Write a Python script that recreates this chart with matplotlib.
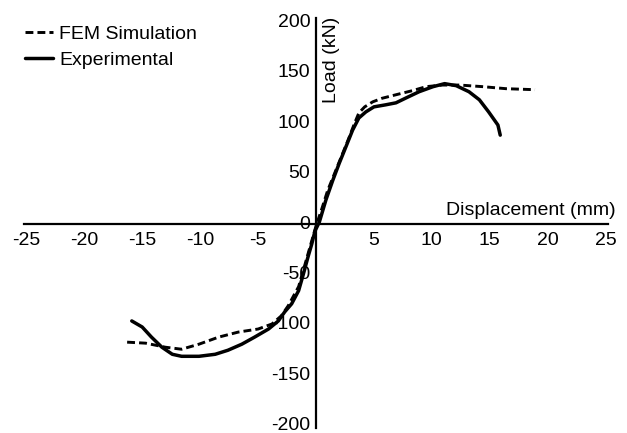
import matplotlib
matplotlib.use("Agg")
import matplotlib.pyplot as plt
from matplotlib.transforms import ScaledTranslation

plt.rcParams['font.family'] = ['Liberation Sans', 'DejaVu Sans']
plt.rcParams['axes.unicode_minus'] = False

# Data
exp_x = [-15.9, -15.0, -14.2, -13.3, -12.4, -11.6, -10.1, -8.7, -7.6, -6.4, -5.3, -4.1,
         -3.25, -2.7, -2.1, -1.5, -1.1, -0.7, -0.37, -0.09, 0.29, 0.86, 1.44, 2.0,
         2.6, 3.16, 3.7, 4.3, 5.0, 6.0, 6.9, 7.8, 8.9, 10.1, 11.1, 12.1, 13.2, 14.1,
         14.9, 15.7, 15.9]
exp_y = [-96, -102, -112, -122, -129, -131, -131, -129, -125, -119, -112, -104,
         -96, -87, -79, -66, -50, -33, -20, -7, 2, 24, 43, 60,
         77, 93, 105, 111, 116, 118, 120, 125, 131, 136, 139, 137, 131, 123,
         111, 98, 88]

fem_x = [-16.3, -14.7, -13.0, -11.6, -10.1, -8.4, -6.7, -5.0, -3.8, -3.0, -2.4,
         -1.5, -1.0, -0.5, 0.0, 0.5, 1.0, 1.6, 2.2, 2.8, 3.3, 3.7, 4.2, 4.9, 5.7,
         6.9, 8.3, 9.5, 10.9, 12.4, 14.4, 16.4, 18.9]
fem_y = [-117, -118, -122, -124, -119, -112, -107, -104, -99, -91, -81,
         -62, -42, -22, -2, 15, 33, 50, 67, 84, 99, 110, 116, 121, 124.5,
         128, 132, 136, 137.6, 137.6, 136, 134, 133]

x_ticks = [-25, -20, -15, -10, -5, 5, 10, 15, 20, 25]
y_ticks = [-200, -150, -100, -50, 0, 50, 100, 150, 200]

W, H = 627, 433
fig = plt.figure(figsize=(W / 100, H / 100), dpi=100)
ax = fig.add_axes([24 / W, 5 / H, 584 / W, 410 / H])
ax.set_xlim(-25.2, 25.2)
ax.set_ylim(-202, 204)

ax.plot(fem_x, fem_y, color='black', lw=2.1, ls=(0, (2.7, 1.4)),
        solid_capstyle='butt', dash_capstyle='butt', label='FEM Simulation')
ax.plot(exp_x, exp_y, color='black', lw=2.5, ls='-',
        solid_joinstyle='round', solid_capstyle='round', label='Experimental')

for s in ['top', 'right']:
    ax.spines[s].set_visible(False)
ax.spines['left'].set_position(('data', 0))
ax.spines['bottom'].set_position(('data', 0))
ax.spines['left'].set_linewidth(1.6)
ax.spines['bottom'].set_linewidth(1.6)

ax.set_xticks(x_ticks)
ax.set_yticks(y_ticks)
ax.tick_params(axis='both', length=0, labelsize=14)
ax.tick_params(axis='x', pad=6)
ax.tick_params(axis='y', pad=4)

shift = ScaledTranslation(0, 2 / 100, fig.dpi_scale_trans)
for lbl in ax.get_yticklabels():
    lbl.set_transform(lbl.get_transform() + shift)

fig.text(616 / W, 1 - 210 / H, 'Displacement (mm)', ha='right', va='center', fontsize=14)
fig.text(331 / W, 1 - 60 / H, 'Load (kN)', ha='center', va='center', rotation=90, fontsize=14)

leg = ax.legend(loc='upper left', bbox_to_anchor=(25 / W, 1 - 25 / H),
                bbox_transform=fig.transFigure, frameon=False, fontsize=14,
                handlelength=1.45, handletextpad=0.3, labelspacing=0.45,
                borderpad=0, borderaxespad=0)

fig.savefig('out.png', dpi=100)
